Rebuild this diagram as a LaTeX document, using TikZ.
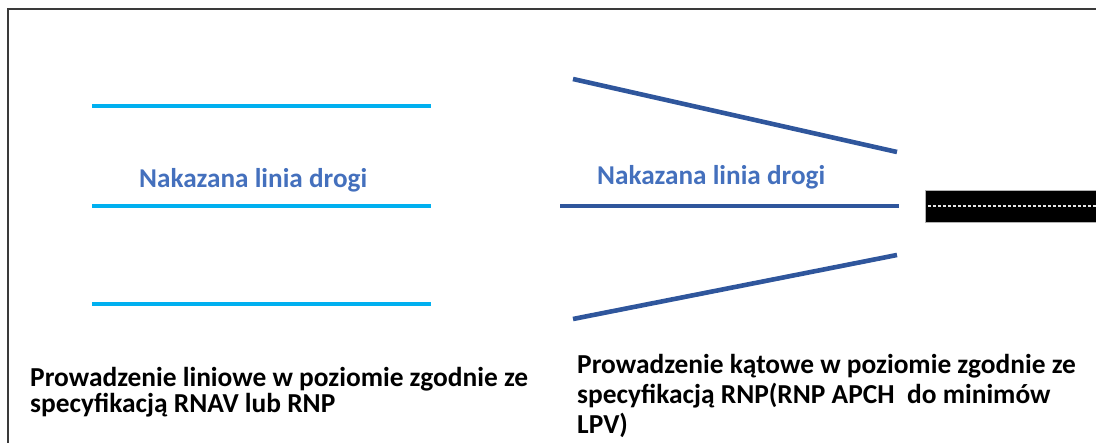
\documentclass[tikz,border=0pt]{standalone}
\usepackage{fontspec}
\setmainfont{Carlito}
\definecolor{cyanline}{HTML}{00B0F0}
\definecolor{navyline}{HTML}{2F569C}
\definecolor{labelblue}{HTML}{4470BD}
\definecolor{framegray}{HTML}{3A3A3A}
\begin{document}
\begin{tikzpicture}[x=1pt,y=-1pt,
  cyanstroke/.style={draw=cyanline,line width=4.2pt},
  navystroke/.style={draw=navyline,line width=4.6pt},
  bluelabel/.style={font=\fontsize{27.2}{30}\selectfont\bfseries,text=labelblue,inner sep=0pt,anchor=base west},
  caption/.style={font=\fontsize{27.4}{30}\selectfont\bfseries,text=black,inner sep=0pt,anchor=base west}]
\useasboundingbox (0,0) rectangle (1096,443);
% frame
\draw[framegray,line width=2pt] (7.5,443) -- (7.5,9.5) -- (1096,9.5);
% left straight lines
\coordinate (l1a) at (92,106); \coordinate (l1b) at (431,106);
\coordinate (l2a) at (92,206); \coordinate (l2b) at (431,206);
\coordinate (l3a) at (92,304); \coordinate (l3b) at (431,304);
\draw[cyanstroke] (l1a) -- (l1b);
\draw[cyanstroke] (l2a) -- (l2b);
\draw[cyanstroke] (l3a) -- (l3b);
\node[bluelabel] (lblL) at (139,188) {Nakazana linia drogi};
% right angular lines
\coordinate (r1a) at (573,79); \coordinate (r1b) at (897,152);
\coordinate (r2a) at (560,206); \coordinate (r2b) at (899,206);
\coordinate (r3a) at (573,319); \coordinate (r3b) at (897,255);
\draw[navystroke] (r1a) -- (r1b);
\draw[navystroke] (r2a) -- (r2b);
\draw[navystroke] (r3a) -- (r3b);
\node[bluelabel] (lblR) at (597,185) {Nakazana linia drogi};
% runway
\node[fill=black,draw=gray!60,line width=0.6pt,minimum width=175pt,minimum height=32pt,inner sep=0pt,anchor=west] (rwy) at (925,206) {};
\coordinate (cl) at (928,206);
\draw[white!80!gray,line width=1.6pt,dash pattern=on 2.6pt off 2.4pt] (cl) -- (rwy.east);
% captions
\node[caption] (capL1) at (30,387) {Prowadzenie liniowe w poziomie zgodnie ze};
\node[caption] (capL2) at (30,413) {specyfikacją RNAV lub RNP};
\node[caption] (capR1) at (577,374) {Prowadzenie kątowe w poziomie zgodnie ze};
\node[caption] (capR2) at (577,404) {specyfikacją RNP(RNP APCH\ \ do minimów};
\node[caption] (capR3) at (577,434) {LPV)};
\end{tikzpicture}
\end{document}
